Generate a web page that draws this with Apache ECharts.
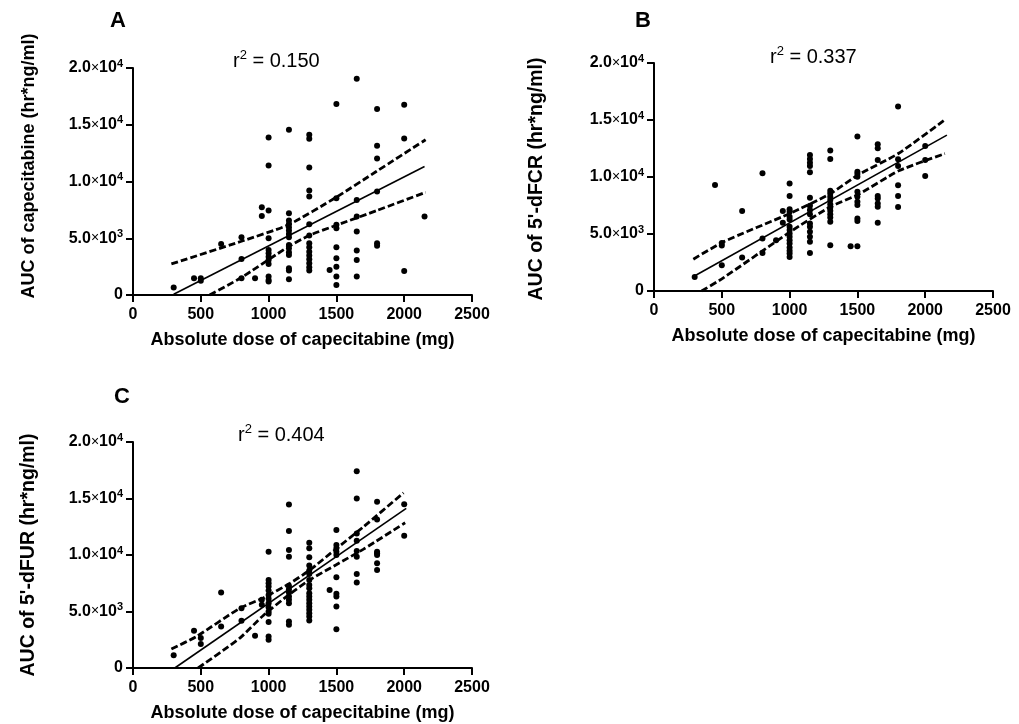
<!DOCTYPE html>
<html>
<head>
<meta charset="utf-8">
<script src="https://cdn.jsdelivr.net/npm/echarts@6/dist/echarts.min.js"></script>
<style>
  html, body { margin: 0; padding: 0; background: #fff; }
  #chart { width: 1019px; height: 724px; }
</style>
</head>
<body>
<div id="chart"></div>
<script>
// A: AUC of capecitabine vs dose
const capPoints = [
  [300, 650], [450, 1470], [500, 1470], [500, 1260], [650, 4500],
  [800, 5090], [800, 3180], [800, 1470], [900, 1470], [950, 7740], [950, 6970],
  [1000, 13880], [1000, 11410], [1000, 7440], [1000, 5000], [1000, 3970], [1000, 3680],
  [1000, 3380], [1000, 3090], [1000, 2740], [1000, 1620], [1000, 1320], [1000, 1180],
  [1150, 14560], [1150, 7210], [1150, 6560], [1150, 6260], [1150, 5970], [1150, 5680],
  [1150, 5380], [1150, 5090], [1150, 4410], [1150, 4120], [1150, 3760], [1150, 3530],
  [1150, 2350], [1150, 2150], [1150, 1380],
  [1300, 14120], [1300, 13760], [1300, 11240], [1300, 9210], [1300, 8680], [1300, 6240],
  [1300, 5240], [1300, 4560], [1300, 4210], [1300, 3820], [1300, 3470], [1300, 3150],
  [1300, 2790], [1300, 2440], [1300, 2150],
  [1450, 2210],
  [1500, 16820], [1500, 8530], [1500, 6180], [1500, 5880], [1500, 4210], [1500, 3240],
  [1500, 2500], [1500, 1620], [1500, 880],
  [1650, 19060], [1650, 8380], [1650, 6910], [1650, 5590], [1650, 3910], [1650, 3090], [1650, 1620],
  [1800, 16380], [1800, 13150], [1800, 12030], [1800, 9120], [1800, 4560], [1800, 4350],
  [2000, 16760], [2000, 13790], [2000, 2120],
  [2150, 6910]
]
const capFit = [[300, 60], [2150, 11320]]
const capUpper = [[283, 2735], [794, 4710], [1145, 6180], [1500, 8620], [1794, 10880], [2158, 13680]]
const capLower = [[565, 0], [794, 1500], [1145, 4250], [1300, 5250], [1500, 6150], [1800, 7450], [2158, 9050]]

// B: AUC of 5'-dFCR vs dose
const fcrPoints = [
  [300, 1230], [450, 9300], [500, 4220], [500, 3990], [500, 2260],
  [650, 7010], [650, 2930], [800, 10320], [800, 4600], [800, 3340], [900, 4460],
  [950, 7010], [950, 5980],
  [1000, 9440], [1000, 8330], [1000, 7180], [1000, 6950], [1000, 6510], [1000, 6280],
  [1000, 5630], [1000, 5340], [1000, 5040], [1000, 4750], [1000, 4460], [1000, 4160],
  [1000, 3810], [1000, 3520], [1000, 3280], [1000, 2990],
  [1150, 11940], [1150, 11580], [1150, 11260], [1150, 10970], [1150, 10410], [1150, 8180],
  [1150, 7480], [1150, 7100], [1150, 6740], [1150, 5920], [1150, 5630], [1150, 5190],
  [1150, 4750], [1150, 4310], [1150, 3340],
  [1300, 12320], [1300, 11580], [1300, 8800], [1300, 8560], [1300, 8270], [1300, 7980],
  [1300, 7620], [1300, 7330], [1300, 7040], [1300, 6740], [1300, 6450], [1300, 6070], [1300, 4020],
  [1450, 3930],
  [1500, 13550], [1500, 10470], [1500, 10260], [1500, 10030], [1500, 8710], [1500, 8270],
  [1500, 7830], [1500, 7540], [1500, 6360], [1500, 6130], [1500, 3930],
  [1650, 12870], [1650, 12520], [1650, 11490], [1650, 8330], [1650, 8120], [1650, 7680],
  [1650, 7390], [1650, 5980],
  [1800, 16190], [1800, 11550], [1800, 10970], [1800, 9270], [1800, 8330], [1800, 7360],
  [2000, 12730], [2000, 11500], [2000, 10090]
]
const fcrFit = [[285, 1230], [2160, 13670]]
const fcrUpper = [[290, 2790], [511, 4310], [1002, 6800], [1304, 8560], [1505, 10180], [1805, 12080], [2151, 15070]]
const fcrLower = [[351, 0], [511, 1150], [1002, 5170], [1304, 7410], [1505, 8460], [1805, 10540], [2145, 12050]]

// C: AUC of 5'-dFUR vs dose
const furPoints = [
  [300, 1120], [450, 3290], [500, 2650], [500, 2120], [650, 6680], [650, 3680],
  [800, 5290], [800, 4180], [900, 2850], [950, 6030], [950, 5590],
  [1000, 10290], [1000, 7790], [1000, 7500], [1000, 7210], [1000, 6850], [1000, 6470],
  [1000, 6120], [1000, 5740], [1000, 5380], [1000, 5000], [1000, 4790], [1000, 4060],
  [1000, 2790], [1000, 2500],
  [1150, 14470], [1150, 12120], [1150, 10440], [1150, 9850], [1150, 7260], [1150, 6970],
  [1150, 6680], [1150, 6320], [1150, 6030], [1150, 5740], [1150, 4120], [1150, 3820],
  [1300, 11090], [1300, 10590], [1300, 9790], [1300, 9060], [1300, 8620], [1300, 8320],
  [1300, 7790], [1300, 7350], [1300, 7060], [1300, 6620], [1300, 6320], [1300, 6030],
  [1300, 5740], [1300, 5440], [1300, 5150], [1300, 4850], [1300, 4560], [1300, 4210],
  [1450, 6910],
  [1500, 12210], [1500, 10880], [1500, 10590], [1500, 10290], [1500, 10000], [1500, 8030],
  [1500, 6560], [1500, 6320], [1500, 5440], [1500, 3440],
  [1650, 17410], [1650, 15000], [1650, 11910], [1650, 11260], [1650, 10350], [1650, 9850],
  [1650, 8320], [1650, 7560],
  [1800, 14710], [1800, 13150], [1800, 10290], [1800, 10150], [1800, 10000], [1800, 9260], [1800, 8680],
  [2000, 14500], [2000, 11710]
]
const furFit = [[308, 0], [2015, 14120]]
const furUpper = [[283, 1680], [468, 2790], [788, 5290], [961, 6200], [1158, 7500], [1305, 8680], [1502, 10590], [1700, 12500], [1995, 15500]]
const furLower = [[480, 0], [788, 2650], [961, 4650], [1158, 6560], [1305, 7810], [1502, 9160], [1700, 10520], [2007, 12850]]

const panelLetters = ['A', 'B', 'C']
const rSquared = ['0.150', '0.337', '0.404']
const yTitles = ['AUC of capecitabine (hr*ng/ml)', "AUC of 5'-dFCR (hr*ng/ml)", "AUC of 5'-dFUR (hr*ng/ml)"]
const xTitle = 'Absolute dose of capecitabine (mg)'

const FONT = "'Liberation Sans', Arial, sans-serif"

// plot areas, in px
const grids = [
  { left: 133, top: 68, width: 339, height: 227 },
  { left: 654, top: 63, width: 339, height: 228 },
  { left: 133, top: 442, width: 339, height: 226 }
]

function sciLabel(v) {
  if (v === 0) return '{b|0}'
  const e = Math.floor(Math.log10(v))
  const m = (v / Math.pow(10, e)).toFixed(1)
  return '{b|' + m + '}{x|×}{b|10}{s|' + e + '}'
}

const axisLine = { lineStyle: { color: '#000', width: 2 } }
const axisTick = { length: 7, lineStyle: { color: '#000', width: 2 } }

const xAxes = grids.map((g, i) => ({
  type: 'value', gridIndex: i, min: 0, max: 2500, interval: 500,
  axisLine, axisTick, splitLine: { show: false },
  axisLabel: { margin: 12, color: '#000', fontFamily: FONT, fontWeight: 'bold', fontSize: 16, formatter: v => String(v) },
  name: xTitle, nameLocation: 'middle', nameGap: 36,
  nameTextStyle: { color: '#000', fontFamily: FONT, fontWeight: 'bold', fontSize: 18 }
}))

const yAxes = grids.map((g, i) => ({
  type: 'value', gridIndex: i, min: 0, max: 20000, interval: 5000,
  axisLine: { show: true, ...axisLine }, axisTick: { show: true, ...axisTick }, splitLine: { show: false },
  axisLabel: {
    margin: 10, color: '#000', formatter: sciLabel,
    rich: {
      b: { fontFamily: FONT, fontWeight: 'bold', fontSize: 16, lineHeight: 20, color: '#000' },
      x: { fontFamily: FONT, fontSize: 14, lineHeight: 20, color: '#000' },
      s: { fontFamily: FONT, fontWeight: 'bold', fontSize: 11, lineHeight: 12, verticalAlign: 'top', color: '#000' }
    }
  }
}))

const panels = [
  [capPoints, capFit, capUpper, capLower],
  [fcrPoints, fcrFit, fcrUpper, fcrLower],
  [furPoints, furFit, furUpper, furLower]
]

const series = []
panels.forEach(([pts, fit, up, lo], i) => {
  series.push({ type: 'scatter', xAxisIndex: i, yAxisIndex: i, data: pts, symbolSize: 6,
    itemStyle: { color: '#000', opacity: 1 } })
  series.push({ type: 'line', xAxisIndex: i, yAxisIndex: i, data: fit, symbol: 'none', lineStyle: { color: '#000', width: 1.6 } })
  ;[up, lo].forEach(d => {
    series.push({ type: 'line', xAxisIndex: i, yAxisIndex: i, data: d, symbol: 'none', smooth: 0.2,
      lineStyle: { color: '#000', width: 2.8, type: [7, 3] } })
  })
})

// letters, r^2 notes, rotated y titles
const letterPos = [[118, 21], [643, 21], [122, 397]]
const rPos = [[233, 49], [770, 45], [238, 423]]
const yTitlePos = [[29, 166], [537, 179], [29, 555]]
const yTitleSize = [18, 19.5, 19.5]
const graphic = []
panelLetters.forEach((t, i) => {
  graphic.push({ type: 'text', x: letterPos[i][0], y: letterPos[i][1],
    style: { text: t, font: 'bold 22px ' + FONT, fill: '#000', align: 'center', verticalAlign: 'middle' } })
  graphic.push({ type: 'text', x: rPos[i][0], y: rPos[i][1],
    style: {
      text: '{n|r}{s|2}{n| = ' + rSquared[i] + '}', align: 'left', verticalAlign: 'top',
      rich: {
        n: { fontFamily: FONT, fontSize: 20, lineHeight: 24, fill: '#000' },
        s: { fontFamily: FONT, fontSize: 13, lineHeight: 14, verticalAlign: 'top', fill: '#000' }
      }
    } })
  graphic.push({ type: 'text', x: yTitlePos[i][0], y: yTitlePos[i][1], rotation: Math.PI / 2,
    style: { text: yTitles[i], font: 'bold ' + yTitleSize[i] + 'px ' + FONT, fill: '#000', align: 'center', verticalAlign: 'middle' } })
})

const chart = echarts.init(document.getElementById('chart'))
chart.setOption({
  animation: false,
  backgroundColor: '#fff',
  grid: grids,
  xAxis: xAxes,
  yAxis: yAxes,
  series,
  graphic
})
</script>
</body>
</html>
